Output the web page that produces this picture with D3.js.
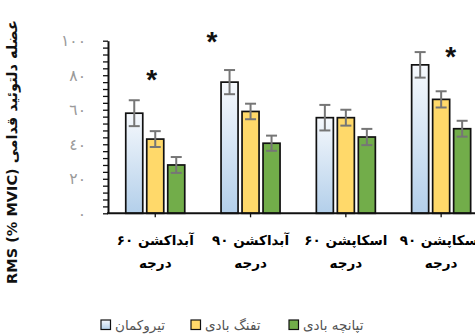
<!DOCTYPE html>
<html>
<head>
<meta charset="utf-8">
<script src="https://cdn.jsdelivr.net/npm/d3@7"></script>
<style>
  html, body { margin: 0; padding: 0; background: #ffffff; overflow: hidden; }
  svg { display: block; }
</style>
</head>
<body>
<svg id="chart" width="475" height="334"></svg>
<script>
// Movement conditions (x groups), two-line labels
const categories = ["آبداکشن ۶۰", "آبداکشن ۹۰", "اسکاپشن ۶۰", "اسکاپشن ۹۰"];
const categorySub = "درجه";

// Series (sport groups)
const seriesNames = ["تیروکمان", "تفنگ بادی", "تپانچه بادی"];

// Mean RMS (% MVIC) per series, one value per category
const archeryMean = [58, 76, 55.4, 86];
const rifleMean   = [43, 59, 55.4, 66];
const pistolMean  = [28, 40.6, 44.2, 49];

// Standard error per series
const archeryErr = [7.5, 7, 7.4, 7.4];
const rifleErr   = [4.6, 4.5, 4.6, 4.7];
const pistolErr  = [4.6, 4.4, 4.7, 4.6];

// Significance markers: category index and height (in axis units)
const starCategory = [0, 1, 3];
const starValue    = [83, 105, 96.5];
const starOffset   = [-3.5, -38.5, 9.5];

// Y axis tick labels (Arabic-Indic digits)
const yTickValues = [0, 20, 40, 60, 80, 100];
const yTickLabels = ["٠", "٢٠", "٤٠", "٦٠", "٨٠", "١٠٠"];

const yAxisTitle = "RMS (% MVIC) عضله دلتوئید قدامی";

const means = [archeryMean, rifleMean, pistolMean];
const errs = [archeryErr, rifleErr, pistolErr];

const svg = d3.select("#chart");
const faFont = "'DejaVu Sans', sans-serif";

// Gradient for the first series
const defs = svg.append("defs");
const grad = defs.append("linearGradient")
  .attr("id", "blueGrad").attr("x1", 0).attr("y1", 0).attr("x2", 0).attr("y2", 1);
grad.append("stop").attr("offset", "0%").attr("stop-color", "#f6f9fd");
grad.append("stop").attr("offset", "100%").attr("stop-color", "#b3cfea");

const fills = ["url(#blueGrad)", "#ffd96a", "#72ad4a"];

const x = d3.scaleBand().domain(categories).range([107.6, 488.8]).paddingInner(0).paddingOuter(0);
const xs = d3.scaleBand().domain(seriesNames).range([-29.5, 29.5]).paddingInner(0.19).paddingOuter(0);
const y = d3.scaleLinear().domain([0, 100]).range([213.3, 40.7]);

// Bars
const rows = [];
categories.forEach((c, ci) => {
  seriesNames.forEach((s, si) => {
    rows.push({ c, s, si, v: means[si][ci], e: errs[si][ci] });
  });
});

const g = svg.append("g");
g.selectAll("rect.bar").data(rows).join("rect")
  .attr("class", "bar")
  .attr("x", d => x(d.c) + x.bandwidth() / 2 + xs(d.s))
  .attr("y", d => y(d.v))
  .attr("width", xs.bandwidth())
  .attr("height", d => y(0) - y(d.v))
  .attr("fill", d => fills[d.si])
  .attr("stroke", "#111")
  .attr("stroke-width", 1.7);

// Error bars
const cap = 5.5;
const eb = g.selectAll("g.err").data(rows).join("g").attr("class", "err")
  .attr("stroke", "#767676").attr("stroke-width", 2);
eb.append("line")
  .attr("x1", d => x(d.c) + x.bandwidth() / 2 + xs(d.s) + xs.bandwidth() / 2)
  .attr("x2", d => x(d.c) + x.bandwidth() / 2 + xs(d.s) + xs.bandwidth() / 2)
  .attr("y1", d => y(d.v + d.e)).attr("y2", d => y(d.v - d.e));
[1, -1].forEach(sign => {
  eb.append("line")
    .attr("x1", d => x(d.c) + x.bandwidth() / 2 + xs(d.s) + xs.bandwidth() / 2 - cap)
    .attr("x2", d => x(d.c) + x.bandwidth() / 2 + xs(d.s) + xs.bandwidth() / 2 + cap)
    .attr("y1", d => y(d.v + sign * d.e)).attr("y2", d => y(d.v + sign * d.e));
});

// Y axis with minor ticks
const yAxis = d3.axisLeft(y).tickValues(d3.range(0, 101, 4)).tickSize(5).tickSizeOuter(0).tickFormat("");
const ya = svg.append("g").attr("transform", "translate(108,0)").call(yAxis);
ya.select(".domain").attr("stroke", "#111").attr("stroke-width", 2);
ya.selectAll(".tick line").attr("stroke", "#111").attr("stroke-width", 1.3);

// Y tick labels
svg.append("g").selectAll("text").data(yTickValues).join("text")
  .attr("x", 86)
  .attr("y", d => y(d))
  .attr("dy", "0.35em")
  .attr("text-anchor", "end")
  .attr("font-family", faFont)
  .attr("font-size", 15.5)
  .attr("letter-spacing", 2.5)
  .attr("fill", "#9a9a9a")
  .text((d, i) => yTickLabels[i]);

// X axis
const xAxis = d3.axisBottom(x).tickSize(4).tickSizeOuter(0).tickFormat("");
const xa = svg.append("g").attr("transform", `translate(0,${y(0)})`).call(xAxis);
xa.select(".domain").attr("stroke", "#111").attr("stroke-width", 2).attr("d", `M107,0H490`);
xa.selectAll(".tick line").attr("stroke", "#111").attr("stroke-width", 1.3);

// Category labels (two lines)
const lab = svg.append("g").attr("font-family", faFont).attr("font-weight", "bold")
  .attr("font-size", 13.5).attr("fill", "#000").attr("text-anchor", "middle");
lab.selectAll("text.l1").data(categories).join("text").attr("class", "l1")
  .attr("x", d => x(d) + x.bandwidth() / 2).attr("y", 245).text(d => d);
lab.selectAll("text.l2").data(categories).join("text").attr("class", "l2")
  .attr("x", d => x(d) + x.bandwidth() / 2).attr("y", 268).text(categorySub);

// Significance asterisks
svg.append("g").selectAll("text").data(starCategory).join("text")
  .attr("x", (d, i) => x(categories[d]) + x.bandwidth() / 2 + starOffset[i])
  .attr("y", (d, i) => y(starValue[i]))
  .attr("dy", "0.68em")
  .attr("text-anchor", "middle")
  .attr("font-family", "'Liberation Sans', Arial, sans-serif")
  .attr("font-weight", "bold")
  .attr("font-size", 28)
  .attr("fill", "#111")
  .text("*");

// Y axis title
svg.append("text")
  .attr("transform", "translate(17,152) rotate(-90)")
  .attr("text-anchor", "middle")
  .attr("font-family", faFont)
  .attr("font-weight", "bold")
  .attr("font-size", 14.5)
  .attr("fill", "#111")
  .attr("direction", "ltr")
  .text(yAxisTitle);

// Legend
const legendX = [101, 191, 289];
const lg = svg.append("g").selectAll("g").data(seriesNames).join("g")
  .attr("transform", (d, i) => `translate(${legendX[i]},320)`);
lg.append("rect").attr("width", 9.5).attr("height", 9.5)
  .attr("fill", (d, i) => fills[i]).attr("stroke", "#111").attr("stroke-width", 1.2);
lg.append("text").attr("x", 14).attr("y", 5).attr("dy", "0.35em")
  .attr("font-family", faFont).attr("font-size", 13.5).attr("fill", "#555")
  .text(d => d);
</script>
</body>
</html>
